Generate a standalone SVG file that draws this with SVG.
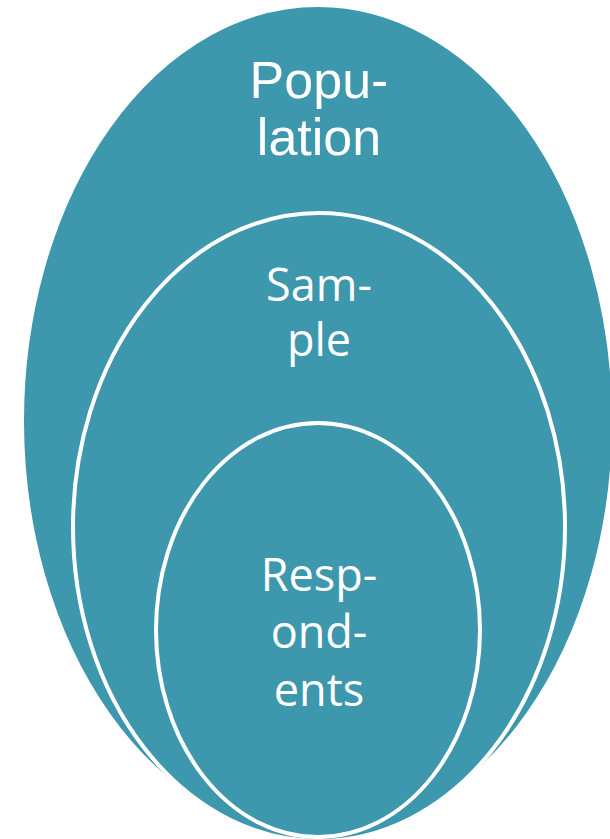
<svg xmlns="http://www.w3.org/2000/svg" width="610" height="839" viewBox="0 0 610 839">
  <style>
    .ring { fill: #3D97AD; stroke: #FFFFFF; stroke-width: 4; }
    .lblA { fill: #FFFFFF; font-family: "Liberation Sans", Arial, sans-serif; font-size: 52px; text-anchor: middle; }
    .lblB { fill: #FFFFFF; font-family: "Open Sans", "Noto Sans", sans-serif; font-size: 45px; text-anchor: middle; }
  </style>
  <rect x="0" y="0" width="610" height="839" fill="#FFFFFF"/>
  <g id="population">
    <ellipse class="ring" cx="318" cy="421" rx="296" ry="416"/>
    <text class="lblA" x="319" y="98">Popu-</text>
    <text class="lblA" x="319" y="155">lation</text>
  </g>
  <g id="sample">
    <ellipse class="ring" cx="319" cy="527" rx="246" ry="314"/>
    <text class="lblB" x="319" y="301">Sam-</text>
    <text class="lblB" x="319" y="356">ple</text>
  </g>
  <g id="respondents">
    <ellipse class="ring" cx="318" cy="630" rx="162" ry="207"/>
    <text class="lblB" x="319" y="591">Resp-</text>
    <text class="lblB" x="319" y="648">ond-</text>
    <text class="lblB" x="319" y="706">ents</text>
  </g>
  <g id="connectors"/>
</svg>
